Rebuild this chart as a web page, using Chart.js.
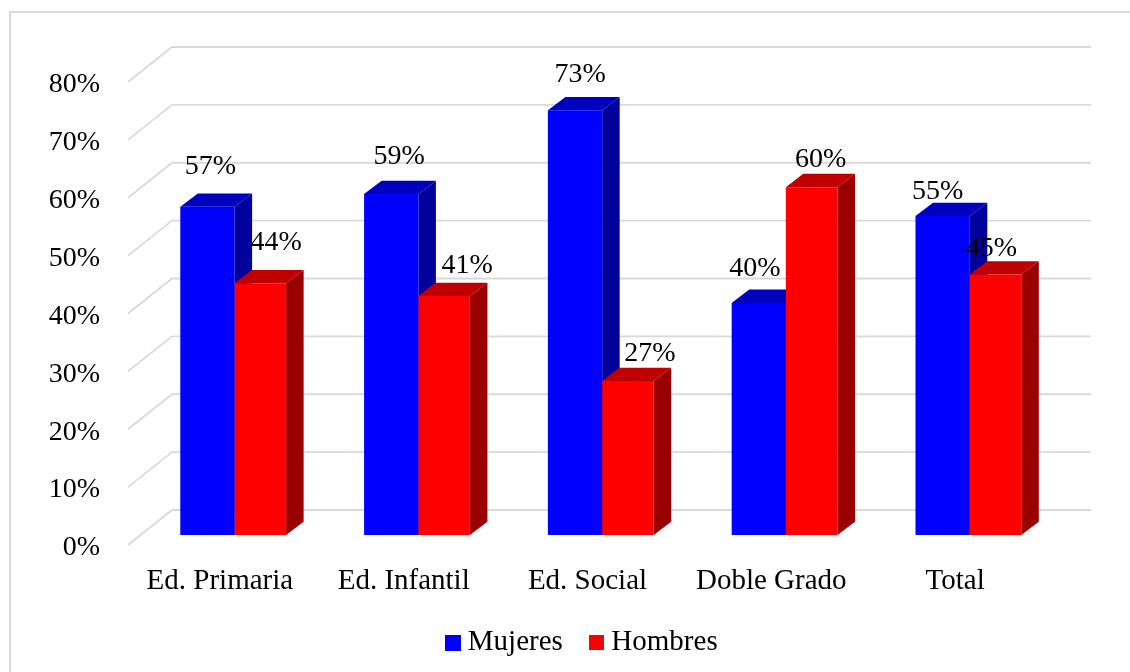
<!DOCTYPE html>
<html lang="es">
<head>
    <meta charset="UTF-8">
    <title>Mujeres y Hombres por grado</title>
    <script src="https://cdn.jsdelivr.net/npm/chart.js@4/dist/chart.umd.min.js"></script>
    <style>
        html, body { margin: 0; padding: 0; background: #fff; overflow: hidden; }
        #wrap { position: relative; width: 1130px; height: 672px; }
        #frame {
            position: absolute; left: 9px; top: 11px; right: 0; bottom: 0;
            border-left: 2px solid #d9d9d9; border-top: 2px solid #d9d9d9;
        }
        canvas { position: absolute; left: 0; top: 0; }
    </style>
</head>
<body>
<div id="wrap">
    <div id="frame"></div>
    <canvas id="chart" width="1130" height="672"></canvas>
</div>
<script>
    'use strict';

    const categories = ['Ed. Primaria', 'Ed. Infantil', 'Ed. Social', 'Doble Grado', 'Total'];
    const mujeres = [56.7, 58.9, 73.4, 40.1, 55.1];
    const hombres = [43.5, 41.3, 26.6, 60.1, 45.0];
    const yTicks = { min: 0, max: 80, step: 10 };

    const fontFamily = '"Liberation Serif", "Times New Roman", serif';
    const fontSize = 28;
    const bigFontSize = 29;
    const gridColor = '#d9d9d9';

    // the floor goes back 44px right and 35px up, bars stand 10px behind the front edge
    const wallDx = 44, wallDy = 35, barLift = 10;
    // side and top faces of a bar
    const depthDx = 17.5, depthDy = 13.3;

    // hand placed value labels (px from bar centre / bar top)
    const labelNudgeMujeres = [[3, -40], [8, -37], [5, -36], [-4, -34], [-5, -24]];
    const labelNudgeHombres = [[16, -41], [23, -30], [22, -27], [9, -28], [-4, -26]];

    function legendSwatch(color, w, h) {
        const c = document.createElement('canvas');
        c.width = w;
        c.height = h;
        const g = c.getContext('2d');
        g.fillStyle = color;
        g.fillRect(0, 0, w, h);
        return c;
    }

    const depthPlugin = {
        id: 'depth',
        afterLayout(chart) {
            // legend sits a bit higher and left of where the layout puts it
            const lg = chart.legend;
            lg.left -= 2.5; lg.right -= 2.5;
            lg.top -= 5; lg.bottom -= 5;
        },
        beforeDatasetsDraw(chart) {
            const { ctx, chartArea, scales } = chart;
            const right = chartArea.right + wallDx;
            ctx.save();
            ctx.strokeStyle = gridColor;
            ctx.lineWidth = 1.8;
            scales.y.ticks.forEach(t => {
                const py = scales.y.getPixelForValue(t.value);
                ctx.beginPath();
                ctx.moveTo(chartArea.left, py);
                ctx.lineTo(chartArea.left + wallDx, py - wallDy);
                ctx.lineTo(right, py - wallDy);
                ctx.stroke();
            });
            // all side and top faces go under the fronts, blue first so red covers it
            chart.data.datasets.forEach((ds, i) => {
                chart.getDatasetMeta(i).data.forEach(bar => {
                    const x0 = bar.x + ds.shiftX - bar.width / 2, x1 = bar.x + ds.shiftX + bar.width / 2;
                    const top = bar.y - barLift, base = bar.base - barLift;
                    ctx.fillStyle = ds.topColor;
                    ctx.beginPath();
                    ctx.moveTo(x0, top);
                    ctx.lineTo(x1, top);
                    ctx.lineTo(x1 + depthDx, top - depthDy);
                    ctx.lineTo(x0 + depthDx, top - depthDy);
                    ctx.closePath();
                    ctx.fill();
                    ctx.fillStyle = ds.sideColor;
                    ctx.beginPath();
                    ctx.moveTo(x1, top);
                    ctx.lineTo(x1 + depthDx, top - depthDy);
                    ctx.lineTo(x1 + depthDx, base - depthDy);
                    ctx.lineTo(x1, base);
                    ctx.closePath();
                    ctx.fill();
                });
            });
            ctx.restore();
        },
        beforeDatasetDraw(chart, args) {
            chart.ctx.save();
            chart.ctx.translate(chart.data.datasets[args.index].shiftX, -barLift);
        },
        afterDatasetDraw(chart) {
            chart.ctx.restore();
        },
        afterDatasetsDraw(chart) {
            const { ctx } = chart;
            ctx.save();
            ctx.font = fontSize + 'px ' + fontFamily;
            ctx.fillStyle = '#000';
            ctx.textAlign = 'center';
            ctx.textBaseline = 'middle';
            chart.data.datasets.forEach((ds, i) => {
                chart.getDatasetMeta(i).data.forEach((bar, j) => {
                    const nudge = ds.labelNudge[j];
                    const text = Math.round(ds.data[j]) + '%';
                    ctx.fillText(text, bar.x + ds.shiftX + nudge[0], bar.y - barLift + nudge[1]);
                });
            });
            ctx.restore();
        }
    };

    new Chart(document.getElementById('chart'), {
        type: 'bar',
        data: {
            labels: categories,
            datasets: [
                {
                    label: 'Mujeres',
                    data: mujeres,
                    backgroundColor: '#0000ff',
                    topColor: '#0000bf',
                    sideColor: '#00009b',
                    shiftX: 14.7,
                    labelNudge: labelNudgeMujeres,
                    swatch: legendSwatch('#0000ff', 16, 16),
                    clip: false
                },
                {
                    label: 'Hombres',
                    data: hombres,
                    backgroundColor: '#ff0000',
                    topColor: '#bf0000',
                    sideColor: '#9b0000',
                    shiftX: 13.2,
                    maxBarThickness: 51.7,
                    labelNudge: labelNudgeHombres,
                    swatch: legendSwatch('#ff0000', 15, 15),
                    clip: false
                }
            ]
        },
        options: {
            responsive: false,
            animation: false,
            categoryPercentage: 0.591,
            barPercentage: 1,
            layout: { padding: { left: 0, right: 83, top: 82, bottom: 0 } },
            scales: {
                x: {
                    grid: { display: false },
                    border: { display: false },
                    afterFit(axis) { axis.height = 55; },
                    ticks: {
                        color: '#000',
                        padding: 11,
                        autoSkip: false,
                        maxRotation: 0,
                        font: { family: fontFamily, size: bigFontSize }
                    }
                },
                y: {
                    min: yTicks.min,
                    max: yTicks.max,
                    grid: { display: false, drawTicks: false },
                    border: { display: false },
                    afterFit(axis) { axis.width = 128; },
                    ticks: {
                        stepSize: yTicks.step,
                        color: '#000',
                        padding: 28,
                        labelOffset: 3,
                        font: { family: fontFamily, size: fontSize },
                        callback: v => v + '%'
                    }
                }
            },
            plugins: {
                tooltip: { enabled: false },
                legend: {
                    position: 'bottom',
                    fullSize: false,
                    labels: {
                        usePointStyle: true,
                        boxWidth: 1,
                        padding: 33,
                        color: '#000',
                        font: { family: fontFamily, size: bigFontSize },
                        generateLabels(chart) {
                            const items = Chart.defaults.plugins.legend.labels.generateLabels(chart);
                            items.forEach(it => { it.pointStyle = chart.data.datasets[it.datasetIndex].swatch; });
                            return items;
                        }
                    }
                }
            }
        },
        plugins: [depthPlugin]
    });
</script>
</body>
</html>
